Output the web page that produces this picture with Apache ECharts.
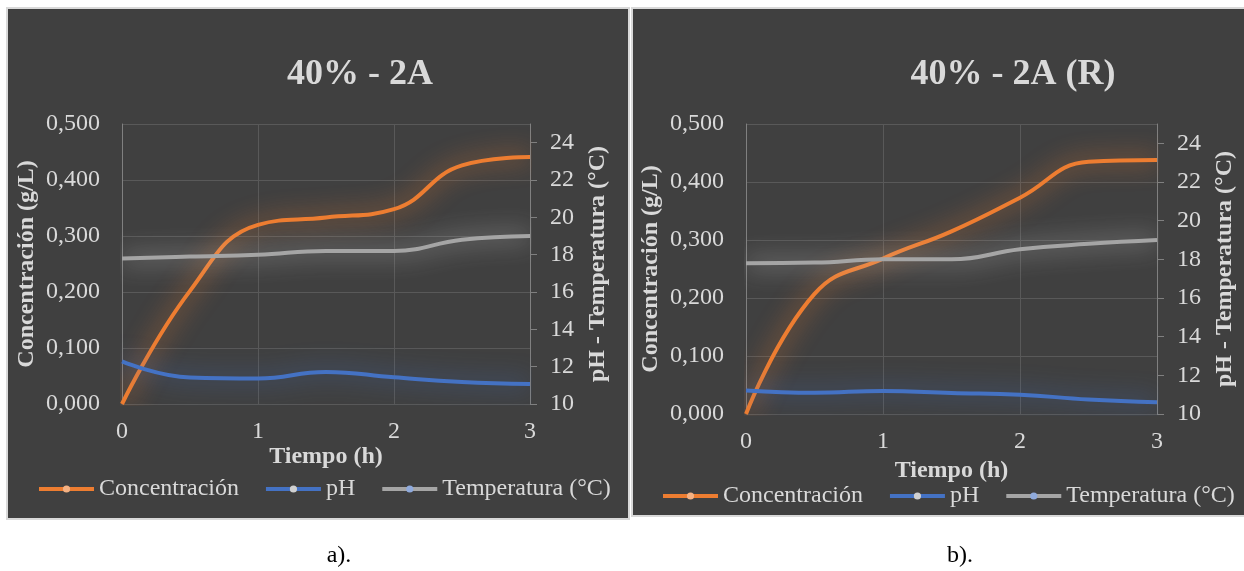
<!DOCTYPE html>
<html>
<head>
<meta charset="utf-8">
<script src="https://cdn.jsdelivr.net/npm/echarts@6/dist/echarts.min.js"></script>
<style>
html,body{margin:0;padding:0;background:#fff;}
#c{width:1244px;height:571px;}
</style>
</head>
<body>
<div id="c"></div>
<script>
// ---- data ----
const hours = [0, 0.5, 1, 1.5, 2, 2.5, 3];
const concA = [0, 0.202, 0.320, 0.333, 0.348, 0.426, 0.441];
const phA   = [12.28, 11.42, 11.37, 11.72, 11.43, 11.18, 11.07];
const tempA = [17.8, 17.9, 18.0, 18.2, 18.2, 18.8, 19.0];
const concB = [0, 0.207, 0.268, 0.315, 0.373, 0.435, 0.438];
const phB   = [11.22, 11.10, 11.19, 11.09, 11.00, 10.75, 10.61];
const tempB = [17.8, 17.83, 18.0, 18.0, 18.52, 18.8, 19.0];
const titles = ['40% - 2A', '40% - 2A (R)'];
const captions = ['a).', 'b).'];
const seriesNames = ['Concentración', 'pH', 'Temperatura (°C)'];
const xTicks = [0, 1, 2, 3];
const rightTicks = [10, 12, 14, 16, 18, 20, 22, 24];

const FONT = 'Liberation Serif';
const TXT = '#d9d9d9';
const GRID = '#595959';
const AXIS = '#808080';
const colors = ['#ED7D31', '#4472C4', '#A5A5A5'];
const glow = ['rgba(237,125,49,1)', 'rgba(68,114,196,0.9)', 'rgba(210,210,210,1)'];
const markerColors = ['#F4B183', '#D0D0D0', '#8FAADC'];

const chart = echarts.init(document.getElementById('c'));

const grids = [
  {left: 122, right: 1244 - 530, top: 124, bottom: 571 - 404},
  {left: 746, right: 1244 - 1157, top: 124, bottom: 571 - 414}
];

function xAxisFor(g, gap) {
  return {
    gridIndex: g, type: 'value', min: 0, max: 3, interval: 1,
    name: 'Tiempo (h)', nameLocation: 'middle', nameGap: gap,
    nameTextStyle: {color: TXT, fontFamily: FONT, fontSize: 24, fontWeight: 'bold'},
    axisLine: {show: true, lineStyle: {color: GRID}},
    axisTick: {show: false},
    axisLabel: {color: TXT, fontFamily: FONT, fontSize: 24, margin: 16,
      customValues: xTicks},
    splitLine: {show: true, lineStyle: {color: GRID}}
  };
}
function yLeft(g) {
  return {
    gridIndex: g, type: 'value', min: 0, max: 0.5, interval: 0.1, position: 'left',
    name: 'Concentración (g/L)', nameLocation: 'middle', nameGap: 83, nameRotate: 90,
    nameTextStyle: {color: TXT, fontFamily: FONT, fontSize: 24, fontWeight: 'bold'},
    axisLine: {show: true, lineStyle: {color: AXIS}},
    axisTick: {show: false},
    axisLabel: {color: TXT, fontFamily: FONT, fontSize: 24, margin: 22,
      formatter: v => v.toFixed(3).replace('.', ',')},
    splitLine: {show: true, lineStyle: {color: GRID}}
  };
}
function yRight(g) {
  return {
    gridIndex: g, type: 'value', min: 10, max: 25, interval: 1, position: 'right',
    name: 'pH - Temperatura (°C)', nameLocation: 'middle', nameGap: 56, nameRotate: 90,
    nameTextStyle: {color: TXT, fontFamily: FONT, fontSize: 24, fontWeight: 'bold'},
    axisLine: {show: true, lineStyle: {color: AXIS}},
    axisTick: {show: true, length: 7, lineStyle: {color: AXIS}, customValues: rightTicks},
    axisLabel: {color: TXT, fontFamily: FONT, fontSize: 24, margin: 20, customValues: rightTicks},
    splitLine: {show: false}
  };
}

function mkSeries(name, idx, xi, yi, vals) {
  return {
    name: name, type: 'line', xAxisIndex: xi, yAxisIndex: yi,
    data: hours.map((h, i) => [h, vals[i]]),
    smooth: 0.45, symbol: 'circle', symbolSize: 8, showSymbol: false,
    itemStyle: {color: colors[idx]},
    lineStyle: {color: colors[idx], width: 4, shadowBlur: 24, shadowColor: glow[idx]},
    emphasis: {disabled: true},
    silent: true
  };
}

function legendFor(left, top) {
  return {
    left: left, top: top, width: 640, padding: 0,
    itemWidth: 55, itemHeight: 9, itemGap: 25,
    textStyle: {color: TXT, fontFamily: FONT, fontSize: 24},
    selectedMode: false,
    lineStyle: {shadowBlur: 0, shadowColor: 'transparent', width: 4},
    data: seriesNames.map((n, i) => ({
      name: n,
      itemStyle: {color: markerColors[i], borderWidth: 0, shadowBlur: 0},
      lineStyle: {color: colors[i], width: 4, shadowBlur: 0}
    }))
  };
}

const option = {
  backgroundColor: '#ffffff',
  animation: false,
  graphic: [
    {type: 'rect', z: -10, shape: {x: 7, y: 8, width: 622, height: 511},
      style: {fill: '#404040', stroke: '#d9d9d9', lineWidth: 2}},
    {type: 'rect', z: -10, shape: {x: 632, y: 8, width: 616, height: 508},
      style: {fill: '#404040', stroke: '#d9d9d9', lineWidth: 2}},
    {type: 'text', x: 360, y: 75, style: {text: titles[0], fill: TXT,
      font: 'bold 36px "Liberation Serif"', textAlign: 'center', textVerticalAlign: 'middle'}},
    {type: 'text', x: 1013, y: 75, style: {text: titles[1], fill: TXT,
      font: 'bold 36px "Liberation Serif"', textAlign: 'center', textVerticalAlign: 'middle'}},
    {type: 'text', x: 339, y: 556, style: {text: captions[0], fill: '#000',
      font: '24px "Liberation Serif"', textAlign: 'center', textVerticalAlign: 'middle'}},
    {type: 'text', x: 960, y: 556, style: {text: captions[1], fill: '#000',
      font: '24px "Liberation Serif"', textAlign: 'center', textVerticalAlign: 'middle'}}
  ],
  legend: [legendFor(37, 477), legendFor(661, 484)],
  grid: grids,
  xAxis: [xAxisFor(0, 40), xAxisFor(1, 39)],
  yAxis: [yLeft(0), yRight(0), yLeft(1), yRight(1)],
  series: [
    mkSeries(seriesNames[0], 0, 0, 0, concA),
    mkSeries(seriesNames[1], 1, 0, 1, phA),
    mkSeries(seriesNames[2], 2, 0, 1, tempA),
    mkSeries(seriesNames[0], 0, 1, 2, concB),
    mkSeries(seriesNames[1], 1, 1, 3, phB),
    mkSeries(seriesNames[2], 2, 1, 3, tempB)
  ]
};
chart.setOption(option);
</script>
</body>
</html>
